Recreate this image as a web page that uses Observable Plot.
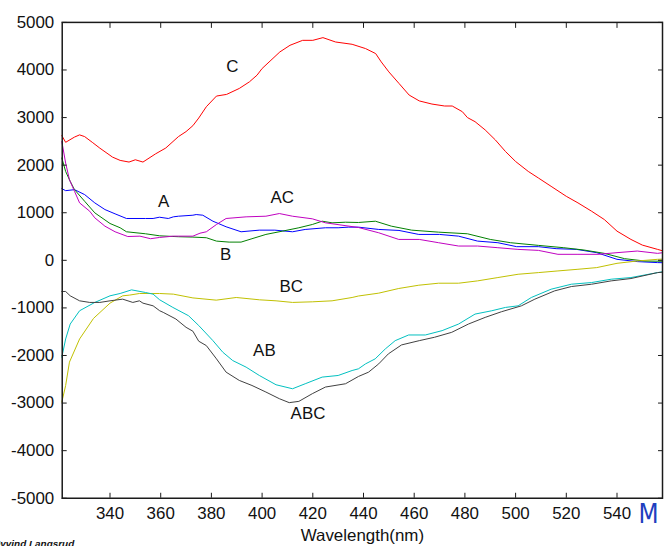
<!DOCTYPE html>
<html>
<head>
<meta charset="utf-8">
<script src="https://cdn.jsdelivr.net/npm/d3@7"></script>
<script src="https://cdn.jsdelivr.net/npm/@observablehq/plot@0.6"></script>
<style>
  html, body { margin: 0; padding: 0; overflow: hidden; background: #fff; }
</style>
</head>
<body>
<div id="chart"></div>
<script>
// Difference spectra of the effect combinations (A, B, C and their interactions)

const waveC = [321,322.5,326,328,330,333,336,341,344,347.5,350,353,358,362,367,370,372.7,375,378,382,386,391,395,398,400,403.5,407,411,416,420,424,429,435.5,440.8,444.8,447,450,454,458,462,467,472,475,479,481,484,488,492,496,500,505,509,514,520,524.6,530,535,540,545.5,550,556,558];
const valC  = [2620,2480,2590,2636,2600,2480,2357,2169,2100,2065,2113,2065,2238,2360,2600,2705,2830,2990,3228,3452,3487,3612,3751,3891,4031,4205,4379,4519,4623,4623,4680,4588,4540,4450,4345,4170,3960,3717,3473,3350,3284,3243,3243,3123,3000,2914,2740,2531,2287,2077,1868,1730,1555,1345,1207,1031,857,613,439,320,230,200];

const waveA = [321,322.5,326,330,334,338,342,346.5,354,357,359.5,363,365,367,372.7,374,376.6,380.6,385.8,391.7,398.9,405,412,417,425,430,434,438,446,454,461.8,470,477.5,485,493,500.4,509,516,524,532,540,548,556,558];
const valA  = [1506,1464,1485,1381,1207,1067,977,879,879,879,906,879,914,927,948,962,948,822,705,600,634,634,600,649,684,684,697,697,649,628,544,544,508,404,370,287,287,245,230,161,21,-27,-48,-50];

const waveB = [321,322.5,324.3,326,330,334,340,344,346.5,354,359.6,367,372.7,378,382,387,391.7,396,401.5,408,414.5,419.8,423.7,427.6,432.9,438,444.7,451,459,469.6,481,490,498,509,519,527,535,543,551,558];
const valB  = [2150,1868,1659,1485,1241,998,774,684,600,558,515,496,488,475,404,383,383,454,544,613,684,753,822,788,801,795,822,718,634,592,558,439,370,314,265,216,146,35,-15,-20];

const waveAC = [321,322.5,324,326,328,332,334,338,342,347,351.8,356,359.5,365,372.7,375.5,378,382,385.8,393.7,401.5,406.8,412,419.8,425,431.5,438,446,453.9,462,469.6,477.5,485,493,500.9,509,516.7,524.6,532.5,540,548,556,558];
const valAC  = [2496,2044,1695,1450,1207,1031,893,718,600,500,508,454,480,508,508,570,600,753,879,914,927,983,927,872,788,739,690,579,439,439,370,300,300,265,230,209,126,126,126,161,195,146,160];

const waveBC = [321,322.5,324,328,333.5,340,345,347.6,351.6,359.5,365,372.7,381.9,389.8,399,405.5,412,419.8,427.6,435.5,438,446,453.9,461.8,469.6,477.5,485,493,501,509,516.7,524.6,532,540,548,556,558];
const valBC  = [-2977,-2630,-2140,-1653,-1220,-900,-746,-732,-697,-697,-711,-790,-837,-781,-830,-851,-885,-872,-851,-781,-750,-690,-592,-523,-481,-481,-432,-362,-293,-258,-223,-188,-153,-63,-14,21,25];

const waveAB = [321,322.5,324.3,328,334,340,344,348.5,354,357,359.6,364.8,371,375,380.6,384.5,388.4,393.7,398.9,405.5,412,417,423.7,430,435.5,438,440.8,444.6,448.6,452.5,457.8,464.4,471,477.5,484,490.6,496,501,506.2,514,522,530,537.7,545.5,556,558];
const valAB  = [-2036,-1653,-1339,-1060,-885,-746,-697,-621,-676,-711,-830,-990,-1165,-1370,-1688,-1931,-2106,-2245,-2420,-2615,-2699,-2594,-2454,-2420,-2316,-2280,-2176,-2071,-1862,-1688,-1569,-1569,-1478,-1339,-1130,-1060,-990,-956,-781,-607,-502,-467,-397,-362,-258,-240];

const waveABC = [321,322.5,324.3,328,332,336,340,345,349,351.6,353,357,359.6,361,366,370,372.7,375,378,382,385.8,391,396,401.5,406.8,410.7,414.5,419.8,425,432.9,438,442,446,449.8,455,462,468,474.8,481.4,488,494.4,502.3,507.6,515.4,522,530,537.7,545.5,556,558];
const valABC  = [-655,-655,-746,-851,-885,-885,-851,-816,-885,-851,-900,-956,-1060,-1094,-1234,-1408,-1490,-1700,-1792,-2071,-2350,-2524,-2630,-2768,-2908,-2991,-2964,-2803,-2663,-2594,-2441,-2350,-2176,-1966,-1778,-1688,-1617,-1513,-1339,-1199,-1081,-956,-816,-642,-551,-502,-432,-383,-258,-250];

// Curve names, their colours and where each name is written
const seriesNames  = ["C", "A", "B", "AC", "BC", "AB", "ABC"];
const seriesColors = ["#ff0000", "#0000ff", "#008000", "#bf00bf", "#bfbf00", "#00bfbf", "#404040"];
const labelX = [388.3, 361.2, 385.6, 407.9, 411.5, 400.9, 418.1];
const labelY = [4079, 1234, 126, 1318, -544, -1904, -3222];

// Axis ticks
const xTicks = [340, 360, 380, 400, 420, 440, 460, 480, 500, 520, 540];
const yTicks = [-5000, -4000, -3000, -2000, -1000, 0, 1000, 2000, 3000, 4000, 5000];

const waves  = [waveC, waveA, waveB, waveAC, waveBC, waveAB, waveABC];
const values = [valC, valA, valB, valAC, valBC, valAB, valABC];

const series = seriesNames.map((name, i) => ({
  name,
  color: seriesColors[i],
  rows: waves[i].map((w, j) => ({wavelength: w, value: values[i][j]}))
}));

const labels = seriesNames.map((name, i) => ({name, x: labelX[i], y: labelY[i]}));

const font = "'Liberation Sans', Arial, Helvetica, sans-serif";

const chart = Plot.plot({
  width: 667,
  height: 548,
  marginLeft: 62,
  marginRight: 2,
  marginTop: 22,
  marginBottom: 48,
  style: {fontFamily: font, fontSize: "17px", background: "#fff", color: "#000", overflow: "hidden"},
  x: {domain: [321.15, 557.95], label: null},
  y: {domain: [-5000, 5000], label: null},
  marks: [
    ...series.map(s => Plot.line(s.rows, {x: "wavelength", y: "value", stroke: s.color, strokeWidth: 1})),
    Plot.frame({stroke: "#1a1a1a", strokeWidth: 1.5}),
    // inward ticks on all four sides
    Plot.axisX(xTicks, {anchor: "bottom", tickSize: -5, text: null, label: null, stroke: "#1a1a1a"}),
    Plot.axisX(xTicks, {anchor: "top", tickSize: -5, text: null, label: null, stroke: "#1a1a1a"}),
    Plot.axisY(yTicks, {anchor: "left", tickSize: -5, text: null, label: null, stroke: "#1a1a1a"}),
    Plot.axisY(yTicks, {anchor: "right", tickSize: -5, text: null, label: null, stroke: "#1a1a1a"}),
    // tick labels
    Plot.axisX(xTicks, {anchor: "bottom", tickSize: 0, tickPadding: 9, tickFormat: String, label: null, fontSize: 17, fill: "#111"}),
    Plot.axisY(yTicks, {anchor: "left", tickSize: 0, tickPadding: 8, tickFormat: String, label: null, fontSize: 17, fill: "#111"}),
    // curve names
    Plot.text(labels, {x: "x", y: "y", text: "name", fontSize: 17, fill: "#111", textAnchor: "middle", lineAnchor: "middle"}),
    // axis title
    Plot.text(["Wavelength(nm)"], {text: d => d, frameAnchor: "bottom", dy: 31, lineAnchor: "top", fontSize: 17, fill: "#111"}),
    // author credit and corner mark
    Plot.text(["Øyvind Langsrud"], {text: d => d, frameAnchor: "bottom-left", dx: -70, dy: 49, lineAnchor: "bottom", textAnchor: "start", fontSize: 10, fontWeight: "bold", fontStyle: "italic", fill: "#111"}),
    Plot.text(["M"], {text: d => d, frameAnchor: "bottom-right", dx: -14, dy: 25, lineAnchor: "bottom", textAnchor: "middle", fontSize: 26, fontFamily: "'Liberation Sans Narrow', 'DejaVu Sans Condensed', sans-serif", fill: "#1f3fbf"})
  ]
});

document.getElementById("chart").appendChild(chart);
</script>
</body>
</html>
